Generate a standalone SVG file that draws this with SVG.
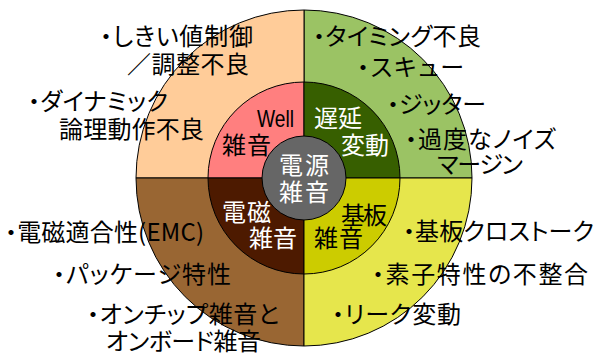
<svg xmlns="http://www.w3.org/2000/svg" width="603" height="354" viewBox="0 0 603 354">
<style>
.seg{stroke:#000;stroke-width:1}
text{font-family:"Noto Sans CJK JP","Liberation Sans",sans-serif;font-size:24px;font-feature-settings:"palt"}
.o{fill:#000}
.w{fill:#fff}
.b{fill:#000}
</style>
<rect width="603" height="354" fill="#fff"/>
<g id="outer-ring">
<g id="timing-quadrant-outer"><path class="seg" d="M304,178 L304,10 A168,168 0 0 1 472,178 Z" fill="#9BC364"/></g>
<g id="threshold-quadrant-outer"><path class="seg" d="M304,178 L136,178 A168,168 0 0 1 304,10 Z" fill="#FFCC99"/></g>
<g id="emc-quadrant-outer"><path class="seg" d="M304,178 L304,346 A168,168 0 0 1 136,178 Z" fill="#996633"/></g>
<g id="substrate-quadrant-outer"><path class="seg" d="M304,178 L472,178 A168,168 0 0 1 304,346 Z" fill="#E6E64C"/></g>
</g>
<g id="connectors"></g>
<g id="node-well">
<path class="seg" d="M304,178 L208,178 A96,96 0 0 1 304,82 Z" fill="#FF7F7F"/>
<text class="b" x="257" y="127" font-family="Liberation Sans" font-size="22" textLength="37" lengthAdjust="spacingAndGlyphs" style="font-family:'Liberation Sans',sans-serif">Well</text>
<text class="b" x="222" y="154" textLength="49">雑音</text>
</g>
<g id="node-delay">
<path class="seg" d="M304,178 L304,82 A96,96 0 0 1 400,178 Z" fill="#375F00"/>
<text class="w" x="314" y="127" textLength="48">遅延</text>
<text class="w" x="341" y="154" textLength="48">変動</text>
</g>
<g id="node-em">
<path class="seg" d="M304,178 L304,274 A96,96 0 0 1 208,178 Z" fill="#4D1A00"/>
<text class="w" x="222" y="221" textLength="49">電磁</text>
<text class="w" x="249" y="247" textLength="48">雑音</text>
</g>
<g id="node-substrate">
<path class="seg" d="M304,178 L400,178 A96,96 0 0 1 304,274 Z" fill="#CCCC00"/>
<text class="b" x="341" y="224" textLength="46">基板</text>
<text class="b" x="314" y="247" textLength="49">雑音</text>
</g>
<g id="node-center">
<circle class="seg" cx="304" cy="178" r="42" fill="#666666"/>
<text class="w" x="279" y="174" textLength="50">電源</text>
<text class="w" x="279" y="201" textLength="50">雑音</text>
</g>
<g id="labels-top-left">
<text class="o" x="100" y="45" textLength="153">・しきい値制御</text>
<text class="o" x="127" y="73" textLength="122">／調整不良</text>
<text class="o" x="28" y="110" textLength="140">・ダイナミック</text>
<text class="o" x="59" y="138" textLength="145">論理動作不良</text>
</g>
<g id="labels-top-right">
<text class="o" x="313" y="45" textLength="168">・タイミング不良</text>
<text class="o" x="357" y="76" textLength="107">・スキュー</text>
<text class="o" x="387" y="113" textLength="99">・ジッター</text>
<text class="o" x="405" y="148" textLength="151">・過度なノイズ</text>
<text class="o" x="437" y="173" textLength="86">マージン</text>
</g>
<g id="labels-bottom-left">
<text class="o" x="5" y="241" textLength="199">・電磁適合性(EMC)</text>
<text class="o" x="53" y="283" textLength="178">・パッケージ特性</text>
<text class="o" x="87" y="323" textLength="192">・オンチップ雑音と</text>
<text class="o" x="106" y="350" textLength="155">オンボード雑音</text>
</g>
<g id="labels-bottom-right">
<text class="o" x="403" y="240" textLength="191">・基板クロストーク</text>
<text class="o" x="372" y="283" textLength="216">・素子特性の不整合</text>
<text class="o" x="332" y="323" textLength="129">・リーク変動</text>
</g>
</svg>
